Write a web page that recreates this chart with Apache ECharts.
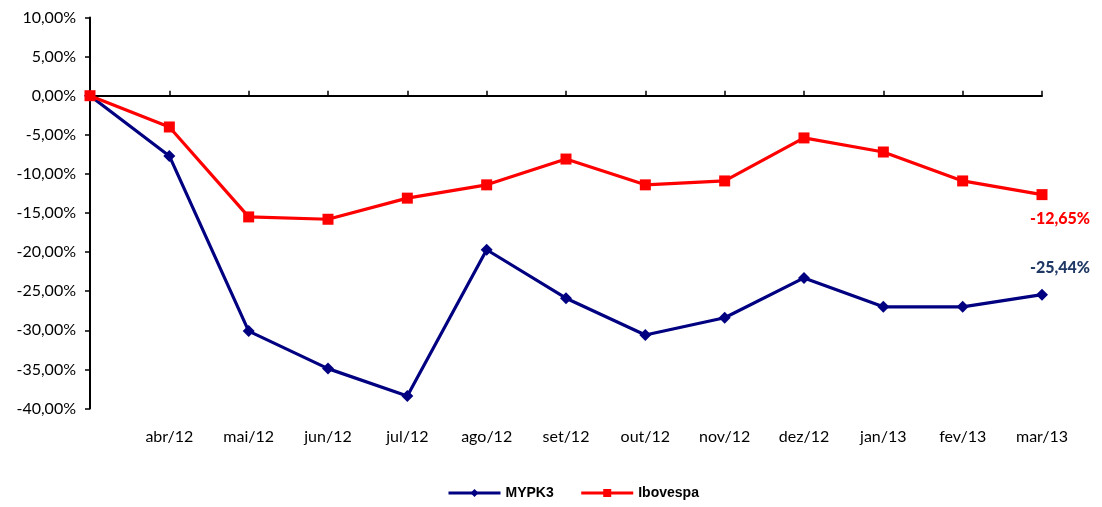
<!DOCTYPE html>
<html><head><meta charset="utf-8">
<script src="https://cdn.jsdelivr.net/npm/echarts@6/dist/echarts.min.js"></script>
<style>html,body{margin:0;padding:0;background:#fff}#c{width:1102px;height:507px}</style>
</head><body><div id="c"></div>
<script>
const categories = ['', 'abr/12', 'mai/12', 'jun/12', 'jul/12', 'ago/12', 'set/12', 'out/12', 'nov/12', 'dez/12', 'jan/13', 'fev/13', 'mar/13'];
const mypk3 = [0, -7.7, -30.1, -34.9, -38.4, -19.7, -25.9, -30.6, -28.4, -23.3, -27.0, -27.0, -25.44];
const ibovespa = [0, -4.0, -15.5, -15.8, -13.1, -11.4, -8.1, -11.4, -10.9, -5.4, -7.2, -10.9, -12.65];
const yTicks = {min: -40, max: 10, interval: 5};

const fmt = v => v.toFixed(2).replace('.', ',') + '%';
function withEndLabel(arr, color, pos) {
  return arr.map((v, i) => i === arr.length - 1 ? {
    value: v,
    label: {show: true, position: pos, offset: [18, pos === 'top' ? -8 : 6], formatter: p => fmt(p.value),
      color: color, fontWeight: 900, fontSize: 16, fontFamily: 'Lato'}
  } : v);
}

const chart = echarts.init(document.getElementById('c'));
chart.setOption({
  animation: false,
  grid: {left: 90, right: 60, top: 17.5, bottom: 98.5},
  legend: {
    bottom: 2, left: 442, itemWidth: 52, itemHeight: 10, itemGap: 26,
    lineStyle: {width: 3},
    textStyle: {fontFamily: 'Liberation Sans', fontWeight: 'bold', fontSize: 14, color: '#000'},
    data: ['MYPK3', 'Ibovespa']
  },
  xAxis: [{
    type: 'category', data: categories, boundaryGap: false,
    axisLine: {onZero: true, lineStyle: {color: '#000', width: 2}},
    axisTick: {show: true, inside: true, length: 5, lineStyle: {color: '#000', width: 1.5}, alignWithLabel: true},
    axisLabel: {show: false}, splitLine: {show: false}
  }, {
    type: 'category', data: categories, boundaryGap: false, position: 'bottom',
    axisLine: {show: false}, axisTick: {show: false},
    axisLabel: {show: true, interval: 0, margin: 20, fontFamily: 'Lato', fontSize: 16, color: '#000'},
    splitLine: {show: false}
  }],
  yAxis: {
    type: 'value', min: yTicks.min, max: yTicks.max, interval: yTicks.interval,
    axisLine: {show: true, lineStyle: {color: '#000', width: 2}},
    axisTick: {show: true, length: 5, lineStyle: {color: '#000', width: 1.5}},
    axisLabel: {formatter: v => fmt(v), fontFamily: 'Lato', fontSize: 16, color: '#000', margin: 14},
    splitLine: {show: false}
  },
  series: [{
    name: 'MYPK3', type: 'line', xAxisIndex: 0,
    data: withEndLabel(mypk3, '#1F3864', 'top'),
    symbol: 'diamond', symbolSize: 12,
    lineStyle: {color: '#000080', width: 3.2}, itemStyle: {color: '#000080'}
  }, {
    name: 'Ibovespa', type: 'line', xAxisIndex: 0,
    data: withEndLabel(ibovespa, '#FF0000', 'bottom'),
    symbol: 'rect', symbolSize: 11,
    lineStyle: {color: '#FF0000', width: 3.2}, itemStyle: {color: '#FF0000'}
  }]
});
</script></body></html>
